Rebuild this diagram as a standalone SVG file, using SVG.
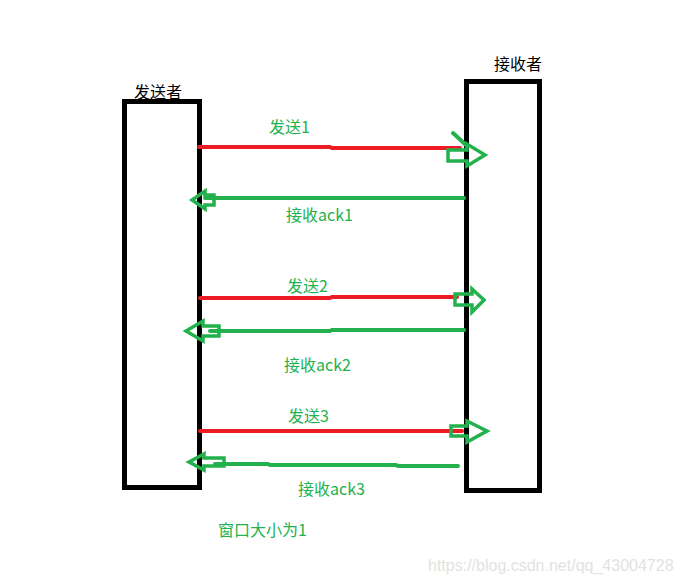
<svg xmlns="http://www.w3.org/2000/svg" width="681" height="584" viewBox="0 0 681 584">
<style>
.box{fill:none;stroke:#000;stroke-width:5}
.red{stroke:#ed1c24;stroke-width:4;stroke-linecap:round;fill:none}
.grn{stroke:#22b14c;stroke-width:4;stroke-linecap:round;fill:none}
.ah{fill:none;stroke:#22b14c;stroke-width:3.5;stroke-linejoin:miter}
.lbl{font-family:"Noto Sans CJK SC","Microsoft YaHei",sans-serif;font-size:16px;fill:#22b14c}
.name{font-family:"Noto Sans CJK SC","Microsoft YaHei",sans-serif;font-size:16px;fill:#000}
.wm{font-family:"Liberation Sans",Arial,sans-serif;font-size:16px;fill:#e2e2e2}
</style>
<rect width="681" height="584" fill="#fff"/>
<g id="sender">
<rect class="box" x="124.5" y="101.5" width="75" height="386"/>
<text class="name" x="134" y="98">发送者</text>
</g>
<g id="receiver">
<rect class="box" x="466.5" y="81.5" width="73" height="409"/>
<text class="name" x="494" y="70">接收者</text>
</g>
<g id="connectors">
<polyline class="red" points="199,147 330,147 332,148 460,148"/>
<line class="grn" x1="453" y1="133" x2="467" y2="146"/>
<polygon class="ah" points="448,150 467,150 467,144 485,155 467,166 467,161 448,161"/>
<line class="grn" x1="464" y1="198" x2="205" y2="198"/>
<polygon class="ah" points="214,195 205,195 205,191 192,200 205,209 205,205 214,205"/>

<polyline class="red" points="200,298 330,298 332,297 457,297"/>
<polygon class="ah" points="455,294 472,294 472,289 484,300 472,312 472,305 455,305"/>
<polyline class="grn" points="464,330 332,330 330,331 210,331"/>
<polygon class="ah" points="219,326 203,326 203,321 186,331 203,341 203,336 219,336"/>

<line class="red" x1="200" y1="431" x2="462" y2="431"/>
<polygon class="ah" points="451,426 467,426 467,421 487,431 467,442 467,436 451,436"/>
<polyline class="grn" points="458,466 398,466 396,465 270,465 268,464 215,464"/>
<polygon class="ah" points="224,458 204,458 204,454 189,462 204,470 204,466 224,466"/>
</g>
<g id="labels">
<text class="lbl" x="269" y="133">发送1</text>
<text class="lbl" x="286" y="221">接收ack1</text>
<text class="lbl" x="287" y="292">发送2</text>
<text class="lbl" x="284" y="371">接收ack2</text>
<text class="lbl" x="288" y="422">发送3</text>
<text class="lbl" x="298" y="495">接收ack3</text>
<text class="lbl" x="218" y="536">窗口大小为1</text>
</g>
<text class="wm" x="428" y="571">https://blog.csdn.net/qq_43004728</text>
</svg>
